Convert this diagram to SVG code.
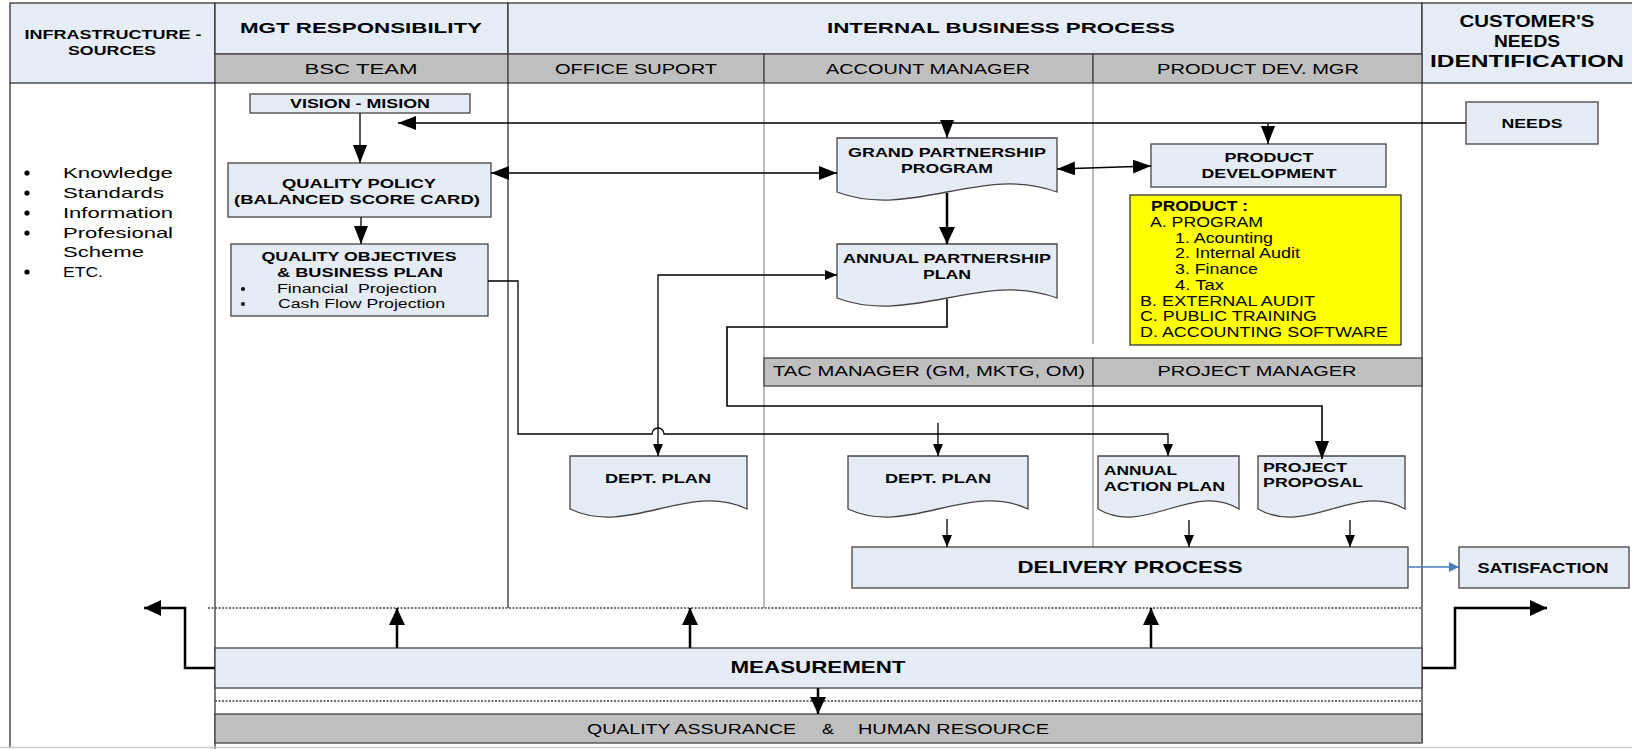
<svg xmlns="http://www.w3.org/2000/svg" width="1632" height="749" viewBox="0 0 1632 749">
<defs>
<style>
.t{font-family:"Liberation Sans",Arial,sans-serif;fill:#000}
.b{font-weight:bold}
.hd{fill:#E6EDF7;stroke:#333;stroke-width:1.3}
.gr{fill:#BFBFBF;stroke:#444;stroke-width:1.3}
.nd{fill:#E6ECF6;stroke:#444;stroke-width:1.3}
.ln{fill:none;stroke:#333;stroke-width:1.3}
.lnt{fill:none;stroke:#777;stroke-width:1}
.dot{fill:none;stroke:#444;stroke-width:1.5;stroke-dasharray:2 1.5}
.c{fill:none;stroke:#000;stroke-width:1.3}
.ck{fill:none;stroke:#000;stroke-width:2.5}
</style>
<marker id="mS" markerUnits="userSpaceOnUse" viewBox="0 0 12 12" markerWidth="12" markerHeight="12" refX="12" refY="6" orient="auto-start-reverse"><path d="M0,1 L12,6 L0,11 Z" fill="#000"/></marker>
<marker id="mA" markerUnits="userSpaceOnUse" viewBox="0 0 18 14" markerWidth="18" markerHeight="14" refX="18" refY="7" orient="auto-start-reverse"><path d="M0,0 L18,7 L0,14 Z" fill="#000"/></marker>
<marker id="mL" markerUnits="userSpaceOnUse" viewBox="0 0 17 16" markerWidth="17" markerHeight="16" refX="17" refY="8" orient="auto-start-reverse"><path d="M0,0 L17,8 L0,16 Z" fill="#000"/></marker>
<marker id="mB" markerUnits="userSpaceOnUse" viewBox="0 0 10 10" markerWidth="10" markerHeight="10" refX="10" refY="5" orient="auto"><path d="M0,0 L10,5 L0,10 Z" fill="#4A7EBB"/></marker>
</defs>
<rect width="1632" height="749" fill="#fff"/>

<!-- swimlane frame -->
<g id="frame">
<rect class="hd" x="10" y="3" width="205" height="80"/>
<rect class="hd" x="215" y="3" width="293" height="51"/>
<rect class="hd" x="508" y="3" width="914" height="51"/>
<rect class="hd" x="1422" y="3" width="212" height="80"/>
<rect class="gr" x="215" y="54" width="293" height="29"/>
<rect class="gr" x="508" y="54" width="256" height="29"/>
<rect class="gr" x="764" y="54" width="329" height="29"/>
<rect class="gr" x="1093" y="54" width="329" height="29"/>
<line class="ln" x1="10" y1="83" x2="10" y2="747"/>
<line class="ln" x1="215" y1="83" x2="215" y2="749"/>
<line class="ln" x1="508" y1="83" x2="508" y2="608"/>
<line class="lnt" x1="764" y1="83" x2="764" y2="608"/>
<line class="lnt" x1="1093" y1="83" x2="1093" y2="344"/>
<line class="lnt" x1="1093" y1="386" x2="1093" y2="547"/>
<line class="ln" x1="1422" y1="83" x2="1422" y2="743"/>
<line class="dot" x1="208" y1="608" x2="1422" y2="608"/>
<line class="dot" x1="215" y1="701" x2="1422" y2="701"/>
<line x1="0" y1="747.5" x2="1632" y2="747.5" stroke="#ccc" stroke-width="1.5"/>
<rect class="gr" x="764" y="358" width="329" height="28"/>
<rect class="gr" x="1093" y="358" width="329" height="28"/>
<rect class="gr" x="215" y="714" width="1207" height="29"/>
<text class="t b" font-size="13" x="113" y="39" text-anchor="middle" textLength="177" lengthAdjust="spacingAndGlyphs">INFRASTRUCTURE -</text>
<text class="t b" font-size="13" x="112" y="55" text-anchor="middle" textLength="88" lengthAdjust="spacingAndGlyphs">SOURCES</text>
<text class="t b" font-size="15" x="361" y="33" text-anchor="middle" textLength="242" lengthAdjust="spacingAndGlyphs">MGT RESPONSIBILITY</text>
<text class="t b" font-size="15" x="1001" y="33" text-anchor="middle" textLength="348" lengthAdjust="spacingAndGlyphs">INTERNAL BUSINESS PROCESS</text>
<text class="t b" font-size="16" x="1527" y="27" text-anchor="middle" textLength="135" lengthAdjust="spacingAndGlyphs">CUSTOMER'S</text>
<text class="t b" font-size="16" x="1527" y="47" text-anchor="middle" textLength="66" lengthAdjust="spacingAndGlyphs">NEEDS</text>
<text class="t b" font-size="16" x="1527" y="67" text-anchor="middle" textLength="194" lengthAdjust="spacingAndGlyphs">IDENTIFICATION</text>
<text class="t" font-size="15" x="361" y="74" text-anchor="middle" textLength="113" lengthAdjust="spacingAndGlyphs">BSC TEAM</text>
<text class="t" font-size="15" x="636" y="74" text-anchor="middle" textLength="162" lengthAdjust="spacingAndGlyphs">OFFICE SUPORT</text>
<text class="t" font-size="15" x="928" y="74" text-anchor="middle" textLength="204" lengthAdjust="spacingAndGlyphs">ACCOUNT MANAGER</text>
<text class="t" font-size="15" x="1258" y="74" text-anchor="middle" textLength="202" lengthAdjust="spacingAndGlyphs">PRODUCT DEV. MGR</text>
<text class="t" font-size="15" x="929" y="376" text-anchor="middle" textLength="312" lengthAdjust="spacingAndGlyphs">TAC MANAGER (GM, MKTG, OM)</text>
<text class="t" font-size="15" x="1257" y="376" text-anchor="middle" textLength="199" lengthAdjust="spacingAndGlyphs">PROJECT MANAGER</text>
<text class="t" font-size="15" y="734"><tspan x="587" textLength="209" lengthAdjust="spacingAndGlyphs">QUALITY ASSURANCE</tspan><tspan x="822" textLength="12" lengthAdjust="spacingAndGlyphs">&amp;</tspan><tspan x="858" textLength="191" lengthAdjust="spacingAndGlyphs">HUMAN RESOURCE</tspan></text>
</g>

<g id="sources">
<circle cx="27" cy="173" r="2.6"/><circle cx="27" cy="193" r="2.6"/><circle cx="27" cy="213" r="2.6"/><circle cx="27" cy="233" r="2.6"/><circle cx="27" cy="272" r="2.6"/>
<text class="t" font-size="15" x="63" y="178" textLength="110" lengthAdjust="spacingAndGlyphs">Knowledge</text>
<text class="t" font-size="15" x="63" y="198" textLength="101" lengthAdjust="spacingAndGlyphs">Standards</text>
<text class="t" font-size="15" x="63" y="218" textLength="110" lengthAdjust="spacingAndGlyphs">Information</text>
<text class="t" font-size="15" x="63" y="238" textLength="110" lengthAdjust="spacingAndGlyphs">Profesional</text>
<text class="t" font-size="15" x="63" y="257" textLength="81" lengthAdjust="spacingAndGlyphs">Scheme</text>
<text class="t" font-size="15" x="63" y="277" textLength="40" lengthAdjust="spacingAndGlyphs">ETC.</text>
</g>

<g id="vision">
<rect class="nd" x="250" y="94" width="220" height="19"/>
<text class="t b" font-size="13" x="360" y="108" text-anchor="middle" textLength="140" lengthAdjust="spacingAndGlyphs">VISION - MISION</text>
</g>
<g id="quality-policy">
<rect class="nd" x="228" y="163" width="263" height="54"/>
<text class="t b" font-size="13" x="359" y="188" text-anchor="middle" textLength="154" lengthAdjust="spacingAndGlyphs">QUALITY POLICY</text>
<text class="t b" font-size="13" x="357" y="204" text-anchor="middle" textLength="246" lengthAdjust="spacingAndGlyphs">(BALANCED SCORE CARD)</text>
</g>
<g id="quality-objectives">
<rect class="nd" x="231" y="244" width="257" height="72"/>
<text class="t b" font-size="13" x="359" y="261" text-anchor="middle" textLength="195" lengthAdjust="spacingAndGlyphs">QUALITY OBJECTIVES</text>
<text class="t b" font-size="13" x="360" y="277" text-anchor="middle" textLength="166" lengthAdjust="spacingAndGlyphs">&amp; BUSINESS PLAN</text>
<circle cx="243" cy="289" r="2"/><circle cx="243" cy="304" r="2"/>
<text class="t" font-size="12.5" x="277" y="293" textLength="160" lengthAdjust="spacingAndGlyphs" xml:space="preserve">Financial  Projection</text>
<text class="t" font-size="12.5" x="278" y="308" textLength="167" lengthAdjust="spacingAndGlyphs">Cash Flow Projection</text>
</g>
<g id="grand-partnership">
<path class="nd" d="M837,138 H1057 V192 C983.7,164 910.3,220 837,192 Z"/>
<text class="t b" font-size="13" x="947" y="157" text-anchor="middle" textLength="198" lengthAdjust="spacingAndGlyphs">GRAND PARTNERSHIP</text>
<text class="t b" font-size="13" x="947" y="173" text-anchor="middle" textLength="92" lengthAdjust="spacingAndGlyphs">PROGRAM</text>
</g>
<g id="annual-partnership">
<path class="nd" d="M837,244 H1057 V298 C983.7,270 910.3,326 837,298 Z"/>
<text class="t b" font-size="13" x="947" y="263" text-anchor="middle" textLength="208" lengthAdjust="spacingAndGlyphs">ANNUAL PARTNERSHIP</text>
<text class="t b" font-size="13" x="947" y="279" text-anchor="middle" textLength="48" lengthAdjust="spacingAndGlyphs">PLAN</text>
</g>
<g id="product-development">
<rect class="nd" x="1151" y="144" width="235" height="43"/>
<text class="t b" font-size="13" x="1269" y="162" text-anchor="middle" textLength="89" lengthAdjust="spacingAndGlyphs">PRODUCT</text>
<text class="t b" font-size="13" x="1269" y="178" text-anchor="middle" textLength="135" lengthAdjust="spacingAndGlyphs">DEVELOPMENT</text>
</g>
<g id="product-list">
<rect x="1130" y="195" width="271" height="150" fill="#FFFF00" stroke="#333" stroke-width="1.3"/>
<text class="t b" font-size="14" x="1151" y="211" textLength="97" lengthAdjust="spacingAndGlyphs">PRODUCT :</text>
<text class="t" font-size="14" x="1150" y="227" textLength="113" lengthAdjust="spacingAndGlyphs">A. PROGRAM</text>
<text class="t" font-size="14" x="1175" y="243" textLength="98" lengthAdjust="spacingAndGlyphs">1. Acounting</text>
<text class="t" font-size="14" x="1175" y="258" textLength="125" lengthAdjust="spacingAndGlyphs">2. Internal Audit</text>
<text class="t" font-size="14" x="1175" y="274" textLength="83" lengthAdjust="spacingAndGlyphs">3. Finance</text>
<text class="t" font-size="14" x="1175" y="290" textLength="49" lengthAdjust="spacingAndGlyphs">4. Tax</text>
<text class="t" font-size="14" x="1140" y="306" textLength="175" lengthAdjust="spacingAndGlyphs">B. EXTERNAL AUDIT</text>
<text class="t" font-size="14" x="1140" y="321" textLength="177" lengthAdjust="spacingAndGlyphs">C. PUBLIC TRAINING</text>
<text class="t" font-size="14" x="1140" y="337" textLength="248" lengthAdjust="spacingAndGlyphs">D. ACCOUNTING SOFTWARE</text>
</g>
<g id="needs">
<rect class="nd" x="1466" y="102" width="132" height="42"/>
<text class="t b" font-size="13" x="1532" y="128" text-anchor="middle" textLength="61" lengthAdjust="spacingAndGlyphs">NEEDS</text>
</g>
<g id="dept-plan-office">
<path class="nd" d="M570,456 H747 V509 C688,481 629,537 570,509 Z"/>
<text class="t b" font-size="13" x="658" y="483" text-anchor="middle" textLength="106" lengthAdjust="spacingAndGlyphs">DEPT. PLAN</text>
</g>
<g id="dept-plan-account">
<path class="nd" d="M848,456 H1028 V509 C968,481 908,537 848,509 Z"/>
<text class="t b" font-size="13" x="938" y="483" text-anchor="middle" textLength="106" lengthAdjust="spacingAndGlyphs">DEPT. PLAN</text>
</g>
<g id="annual-action-plan">
<path class="nd" d="M1098,456 H1239 V509 C1192,481 1145,537 1098,509 Z"/>
<text class="t b" font-size="13" x="1104" y="475" textLength="73" lengthAdjust="spacingAndGlyphs">ANNUAL</text>
<text class="t b" font-size="13" x="1104" y="491" textLength="121" lengthAdjust="spacingAndGlyphs">ACTION PLAN</text>
</g>
<g id="project-proposal">
<path class="nd" d="M1258,456 H1405 V509 C1356,481 1307,537 1258,509 Z"/>
<text class="t b" font-size="13" x="1263" y="472" textLength="84" lengthAdjust="spacingAndGlyphs">PROJECT</text>
<text class="t b" font-size="13" x="1263" y="487" textLength="100" lengthAdjust="spacingAndGlyphs">PROPOSAL</text>
</g>
<g id="delivery">
<rect class="nd" x="852" y="547" width="556" height="41"/>
<text class="t b" font-size="17" x="1130" y="573" text-anchor="middle" textLength="225" lengthAdjust="spacingAndGlyphs">DELIVERY PROCESS</text>
</g>
<g id="satisfaction">
<rect class="nd" x="1459" y="547" width="170" height="41"/>
<text class="t b" font-size="14" x="1543" y="573" text-anchor="middle" textLength="131" lengthAdjust="spacingAndGlyphs">SATISFACTION</text>
</g>
<g id="measurement">
<rect class="nd" x="215" y="648" width="1207" height="40"/>
<text class="t b" font-size="17" x="818" y="673" text-anchor="middle" textLength="175" lengthAdjust="spacingAndGlyphs">MEASUREMENT</text>
</g>

<g id="connectors">
<path class="c" d="M360,113 V163" marker-end="url(#mA)"/>
<path class="c" d="M361,217 V244" marker-end="url(#mA)"/>
<path class="c" d="M1466,123 H398" marker-end="url(#mA)"/>
<path class="c" d="M947,123 V138" marker-end="url(#mA)"/>
<path class="c" d="M1268,123 V144" marker-end="url(#mA)"/>
<path class="c" d="M491,173 H837" marker-start="url(#mA)" marker-end="url(#mA)"/>
<path class="c" d="M1057,169 L1151,166" marker-start="url(#mA)" marker-end="url(#mA)"/>
<path class="ck" d="M947,193 V244" marker-end="url(#mL)"/>
<path class="c" d="M837,275 H658 V456" marker-start="url(#mS)" marker-end="url(#mS)"/>
<path class="c" d="M488,281 H518 V434 H652 A6,6 0 0 1 664,434 H1168 V456" marker-end="url(#mS)"/>
<path class="c" style="stroke-width:1.6" d="M947,299 V327 H727 V406 H1322 V459" marker-end="url(#mA)"/>
<path class="c" d="M938,423 V456" marker-end="url(#mS)"/>
<path class="c" d="M947,519 V547" marker-end="url(#mS)"/>
<path class="c" d="M1189,520 V547" marker-end="url(#mS)"/>
<path class="c" d="M1350,520 V547" marker-end="url(#mS)"/>
<path fill="none" stroke="#4A7EBB" stroke-width="1.3" d="M1408,567 H1459" marker-end="url(#mB)"/>
<path class="ck" d="M397,648 V608" marker-end="url(#mL)"/>
<path class="ck" d="M690,648 V608" marker-end="url(#mL)"/>
<path class="ck" d="M1151,648 V608" marker-end="url(#mL)"/>
<path class="ck" d="M818,688 V714" marker-end="url(#mL)"/>
<path class="ck" d="M215,668 H185 V608 H144" marker-end="url(#mL)"/>
<path class="ck" d="M1422,668 H1455 V608 H1547" marker-end="url(#mL)"/>
</g>
</svg>
